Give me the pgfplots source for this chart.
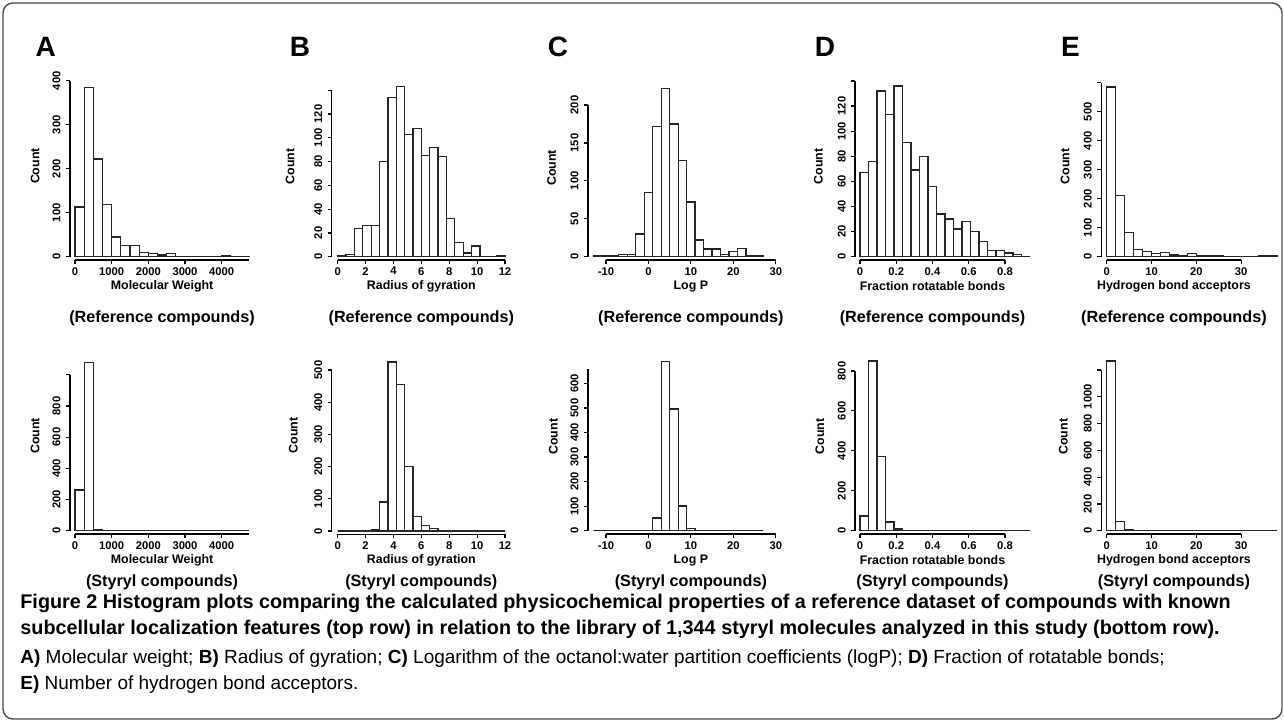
\documentclass[border=0pt]{standalone}
\usepackage{fontspec}
\setmainfont{Liberation Sans}
\usepackage{pgfplots}
\pgfplotsset{compat=1.18}

% sizes: 1 px of the reference = 0.5pt
\newcommand{\tickfont}{\fontsize{5.6}{6}\selectfont\bfseries}
\newcommand{\labfont}{\fontsize{6.2}{7}\selectfont\bfseries}
\newcommand{\ttlfont}{\fontsize{8.1}{9}\selectfont\bfseries}
\newcommand{\capbf}{\fontsize{9.9}{11}\selectfont\bfseries}
\newcommand{\caprm}{\fontsize{9.5}{11}\selectfont}

\pgfplotsset{
  rhist/.style={
    scale only axis, clip=false, anchor=south west,
    axis x line*=bottom, axis y line*=left,
    axis x line shift=1.65pt,
    axis line style={line width=0.6pt},
    tick align=outside, major tick length=2pt,
    tick style={black, line width=0.6pt},
    scaled ticks=false, ymin=0,
    xticklabel style={font=\tickfont, inner sep=0pt, anchor=north},
    yticklabel style={font=\tickfont, inner sep=0pt, rotate=90, anchor=south},
    xticklabel shift=1.4pt, yticklabel shift=2.5pt,
    xlabel style={font=\labfont, inner sep=0pt, at={(axis description cs:0.5,0)}, anchor=center, yshift=-14.8pt},
    ylabel={Count},
    ylabel style={font=\labfont, inner sep=0pt, anchor=center},
  },
  hbar/.style={ybar interval, draw=black!85, fill=white, line width=0.65pt},
}

\begin{document}
\begin{tikzpicture}
\useasboundingbox (0,0) rectangle (642pt,-361pt);
\draw[black!70, line width=0.7pt, rounded corners=5pt] (1.5pt,-1.5pt) rectangle (641pt,-359.5pt);

% ---------- A ----------
\begin{axis}[rhist, name=At, at={(37.5pt,-128.35pt)}, x=0.018333pt, y=0.22pt,
  xmin=0, xmax=4750, ymax=400, axis y line shift=2.5pt,
  xtick={0,1000,2000,3000,4000}, xticklabels={0,1000,2000,3000,4000},
  ytick={0,100,200,300,400}, yticklabels={0,100,200,300,400},
  xlabel={Molecular Weight}, ylabel style={at={(axis cs:-1091,206)}}]
\addplot[hbar] coordinates {(0,113) (250,385) (500,222) (750,118) (1000,45) (1250,25) (1500,25) (1750,10) (2000,7) (2250,4) (2500,7) (2750,1) (3000,1) (3250,0) (3500,0) (3750,0) (4000,3) (4250,1) (4500,1) (4750,1)};
\end{axis}
\begin{axis}[rhist, name=Ab, at={(37.5pt,-265.35pt)}, x=0.018333pt, y=0.078pt,
  xmin=0, xmax=4750, ymax=1000, axis y line shift=2.5pt,
  xtick={0,1000,2000,3000,4000}, xticklabels={0,1000,2000,3000,4000},
  ytick={0,200,400,600,800}, yticklabels={0,200,400,600,800},
  extra y ticks={1000}, extra y tick labels={},
  xlabel={Molecular Weight}, ylabel style={at={(axis cs:-1091,607)}}]
\addplot[hbar] coordinates {(0,260) (250,1080) (500,4) (750,0) (1000,0) (1250,0) (1500,0) (1750,0) (2000,0) (2250,0) (2500,0) (2750,0) (3000,0) (3250,0) (3500,0) (3750,0) (4000,0) (4250,0) (4500,0) (4750,0)};
\end{axis}

% ---------- B ----------
\begin{axis}[rhist, name=Bt, at={(168.85pt,-128.35pt)}, x=6.97pt, y=0.5945pt,
  xmin=0, xmax=12, ymax=140, axis y line shift=3pt,
  xtick={0,2,...,12}, xticklabels={0,2,4,6,8,10,12},
  ytick={0,20,...,120}, yticklabels={0,20,40,60,80,100,120},
  extra y ticks={140}, extra y tick labels={},
  xlabel={Radius of gyration}, ylabel style={at={(axis cs:-3.42,75.9)}}]
\addplot[hbar] coordinates {(0,1) (0.6,2) (1.2,24) (1.8,26) (2.4,26) (3.0,80) (3.6,134) (4.2,143) (4.8,103) (5.4,108) (6.0,85) (6.6,92) (7.2,84) (7.8,32) (8.4,12) (9.0,3) (9.6,9) (10.2,0) (10.8,0) (11.4,1) (12.0,1)};
\end{axis}
\begin{axis}[rhist, name=Bb, at={(168.85pt,-265.5pt)}, x=6.97pt, y=0.161pt,
  xmin=0, xmax=12, ymax=500, axis y line shift=3pt,
  xtick={0,2,...,12}, xticklabels={0,2,4,6,8,10,12},
  ytick={0,100,...,500}, yticklabels={0,100,200,300,400,500},
  xlabel={Radius of gyration}, ylabel style={at={(axis cs:-3.19,296.6)}}]
\addplot[hbar] coordinates {(0,0) (0.6,0) (1.2,0) (1.8,0) (2.4,3) (3.0,90) (3.6,525) (4.2,455) (4.8,200) (5.4,45) (6.0,18) (6.6,8) (7.2,0) (7.8,0) (8.4,0) (9.0,0) (9.6,0) (10.2,0) (10.8,0) (11.4,0) (12.0,0)};
\end{axis}

% ---------- C ----------
\begin{axis}[rhist, name=Ct, at={(303pt,-128.35pt)}, x=2.122pt, y=0.3792pt,
  xmin=-10, xmax=30, ymax=200, axis y line shift=9pt,
  xtick={-10,0,10,20,30}, xticklabels={-10,0,10,20,30},
  ytick={0,50,...,200}, yticklabels={0,50,100,150,200},
  xlabel={Log P}, ylabel style={at={(axis cs:-22.8,117)}}]
\addplot[hbar] coordinates {(-13,2) (-11,1) (-9,1) (-7,3) (-5,3) (-3,30) (-1,85) (1,172) (3,222) (5,175) (7,127) (9,72) (11,22) (13,10) (15,10) (17,3) (19,7) (21,11) (23,2) (25,1) (27,1)};
\end{axis}
\begin{axis}[rhist, name=Cb, at={(303pt,-265.35pt)}, x=2.122pt, y=0.1228pt,
  xmin=-10, xmax=30, ymax=660, axis y line shift=9pt,
  xtick={-10,0,10,20,30}, xticklabels={-10,0,10,20,30},
  ytick={0,100,...,600}, yticklabels={0,100,200,300,400,500,600},
  xlabel={Log P}, ylabel style={at={(axis cs:-22.4,383)}}]
\addplot[hbar] coordinates {(-13,0) (-11,0) (-9,0) (-7,0) (-5,0) (-3,0) (-1,0) (1,52) (3,688) (5,496) (7,100) (9,8) (11,0) (13,0) (15,0) (17,0) (19,0) (21,0) (23,0) (25,0) (27,0)};
\end{axis}

% ---------- D ----------
\begin{axis}[rhist, name=Dt, at={(430pt,-128.35pt)}, x=90.625pt, y=0.6278pt,
  xmin=0, xmax=0.8, ymax=140, axis y line shift=2.5pt,
  xtick={0,0.2,0.4,0.6,0.8}, xticklabels={0,0.2,0.4,0.6,0.8},
  ytick={0,20,...,120}, yticklabels={0,20,40,60,80,100,120},
  extra y ticks={140}, extra y tick labels={},
  xlabel={Fraction rotatable bonds}, ylabel style={at={(axis cs:-0.230,71.8)}}]
\addplot[hbar] coordinates {(0,67) (0.0469,76) (0.0938,132) (0.1407,113) (0.1876,136) (0.2345,91) (0.2814,69) (0.3283,80) (0.3752,56) (0.4221,34) (0.469,30) (0.5159,22) (0.5628,28) (0.6097,20) (0.6566,12) (0.7035,5) (0.7504,5) (0.7973,3) (0.8442,2) (0.8911,0) (0.938,0)};
\end{axis}
\begin{axis}[rhist, name=Db, at={(430pt,-265.35pt)}, x=90.625pt, y=0.09985pt,
  xmin=0, xmax=0.8, ymax=800, axis y line shift=2.5pt,
  xtick={0,0.2,0.4,0.6,0.8}, xticklabels={0,0.2,0.4,0.6,0.8},
  ytick={0,200,...,800}, yticklabels={0,200,400,600,800},
  xlabel={Fraction rotatable bonds}, ylabel style={at={(axis cs:-0.221,471.7)}}]
\addplot[hbar] coordinates {(0,73) (0.0469,850) (0.0938,370) (0.1407,43) (0.1876,8) (0.2345,0) (0.2814,0) (0.3283,0) (0.3752,0) (0.4221,0) (0.469,0) (0.5159,0) (0.5628,0) (0.6097,0) (0.6566,0) (0.7035,0) (0.7504,0) (0.7973,0) (0.8442,0) (0.8911,0) (0.938,0)};
\end{axis}

% ---------- E ----------
\begin{axis}[rhist, name=Et, at={(553.35pt,-128.35pt)}, x=2.2415pt, y=0.145pt,
  xmin=0, xmax=30, ymax=600, axis y line shift=2.8pt,
  xtick={0,10,20,30}, xticklabels={0,10,20,30},
  ytick={0,100,...,500}, yticklabels={0,100,200,300,400,500},
  extra y ticks={600}, extra y tick labels={},
  xlabel={Hydrogen bond acceptors}, ylabel style={at={(axis cs:-9.3,311)}}]
\addplot[hbar] coordinates {(0,585) (2,210) (4,83) (6,24) (8,18) (10,10) (12,14) (14,6) (16,5) (18,10) (20,2) (22,3) (24,4) (26,1) (28,1) (30,1) (32,1) (34,4) (36,3) (38,3)};
\end{axis}
\begin{axis}[rhist, name=Eb, at={(553.35pt,-265.35pt)}, x=2.2415pt, y=0.067pt,
  xmin=0, xmax=30, ymax=1200, axis y line shift=2.8pt,
  xtick={0,10,20,30}, xticklabels={0,10,20,30},
  ytick={0,200,...,1000}, yticklabels={0,200,400,600,800,1000},
  extra y ticks={1200}, extra y tick labels={},
  xlabel={Hydrogen bond acceptors}, ylabel style={at={(axis cs:-9.68,701)}}]
\addplot[hbar] coordinates {(0,1267) (2,67) (4,10) (6,0) (8,0) (10,0) (12,0) (14,0) (16,0) (18,0) (20,0) (22,0) (24,0) (26,0) (28,0) (30,0) (32,0) (34,0) (36,0) (38,0)};
\end{axis}

% panel letters
\foreach \L/\X in {A/22.9, B/150, C/279, D/412.5, E/535.2}
  \node[font=\fontsize{14}{14}\selectfont\bfseries, inner sep=0pt, anchor=center] at (\X pt,-23.4pt) {\L};

% row titles
\foreach \N in {At,Bt,Ct,Dt,Et}
  \node[font=\ttlfont, inner sep=0pt] at ([yshift=-30.65pt]\N.south) {(Reference compounds)};
\foreach \N in {Ab,Bb,Cb,Db,Eb}
  \node[font=\ttlfont, inner sep=0pt] at ([yshift=-25.65pt]\N.south) {(Styryl compounds)};

% caption
\node[anchor=base west, inner sep=0pt, font=\capbf] at (10pt,-304pt)
  {Figure 2 Histogram plots comparing the calculated physicochemical properties of a reference dataset of compounds with known};
\node[anchor=base west, inner sep=0pt, font=\capbf] at (10pt,-317pt)
  {subcellular localization features (top row) in relation to the library of 1,344 styryl molecules analyzed in this study (bottom row).};
\node[anchor=base west, inner sep=0pt, font=\caprm] at (10pt,-331.5pt)
  {\textbf{A)} Molecular weight; \textbf{B)} Radius of gyration; \textbf{C)} Logarithm of the octanol:water partition coefficients (logP); \textbf{D)} Fraction of rotatable bonds;};
\node[anchor=base west, inner sep=0pt, font=\caprm] at (10pt,-344.5pt)
  {\textbf{E)} Number of hydrogen bond acceptors.};
\end{tikzpicture}
\end{document}
